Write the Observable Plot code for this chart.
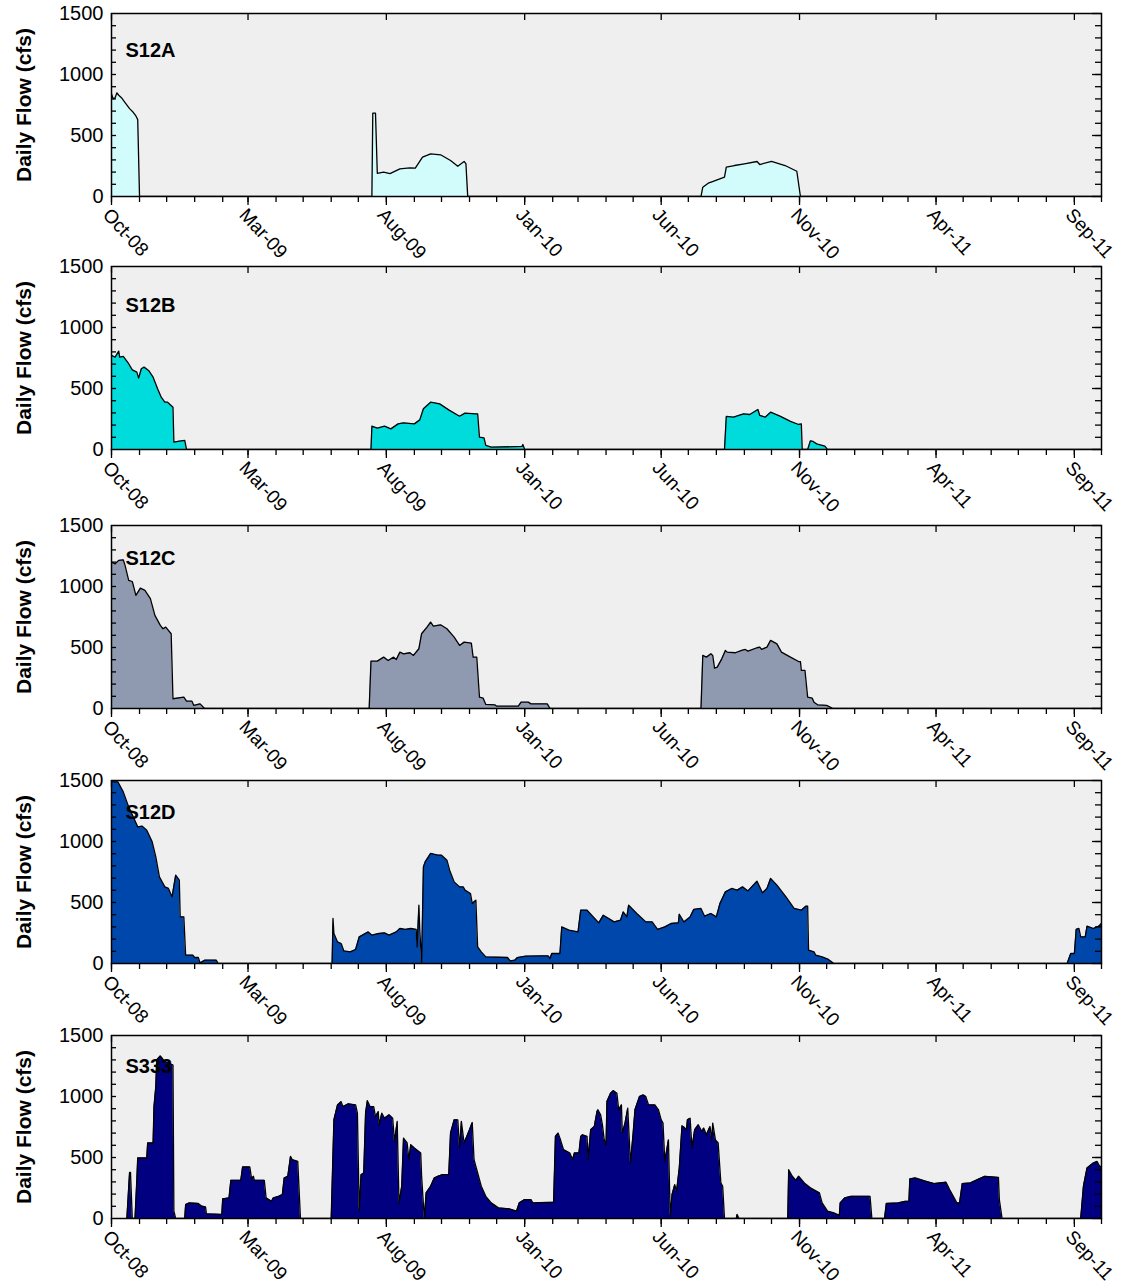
<!DOCTYPE html>
<html><head><meta charset="utf-8">
<script src="https://cdn.jsdelivr.net/npm/d3@7"></script>
<script src="https://cdn.jsdelivr.net/npm/@observablehq/plot@0.6"></script>
<style>
body{margin:0;background:#fff;}
#chart svg{display:block;}
</style>
</head><body><div id="chart"></div>
<script>
// ---------- DATA ----------
const stations = ["S12A", "S12B", "S12C", "S12D", "S333"];
const yTickValues = [0, 500, 1000, 1500];
const majorTickDates = ["2008-10-01","2009-03-01","2009-08-01","2010-01-01","2010-06-01","2010-11-01","2011-04-01","2011-09-01"];
const yTitle = "Daily Flow (cfs)";

const s12a = [["2008-10-01",840],["2008-10-03",800],["2008-10-05",810],["2008-10-07",850],["2008-10-09",830],["2008-10-12",810],["2008-10-16",770],["2008-10-21",720],["2008-10-25",690],["2008-10-28",660],["2008-10-30",630],["2008-11-01",0],
["2009-07-16",0],["2009-07-17",683],["2009-07-20",683],["2009-07-22",190],["2009-07-29",200],["2009-08-05",188],["2009-08-16",227],["2009-08-27",235],["2009-09-02",233],["2009-09-10",322],["2009-09-19",350],["2009-09-30",342],["2009-10-11",295],["2009-10-19",248],["2009-10-26",287],["2009-10-28",270],["2009-10-30",0],
["2010-07-15",0],["2010-07-17",76],["2010-07-23",109],["2010-07-27",120],["2010-08-10",158],["2010-08-12",240],["2010-08-21",254],["2010-09-01",268],["2010-09-15",287],["2010-09-18",262],["2010-10-01",287],["2010-10-16",254],["2010-10-29",207],["2010-11-02",0],["2011-09-30",0]];

const s12b = [["2008-10-01",771],["2008-10-05",757],["2008-10-09",806],["2008-10-10",757],["2008-10-14",763],["2008-10-20",703],["2008-10-24",653],["2008-10-29",634],["2008-10-31",585],["2008-11-03",662],["2008-11-06",675],["2008-11-11",648],["2008-11-16",593],["2008-11-21",498],["2008-11-25",429],["2008-11-29",388],["2008-12-02",388],["2008-12-08",347],["2008-12-09",60],["2008-12-15",68],["2008-12-21",74],["2008-12-23",0],
["2009-07-15",0],["2009-07-16",191],["2009-07-22",175],["2009-07-30",191],["2009-08-06",169],["2009-08-14",210],["2009-08-20",219],["2009-09-01",210],["2009-09-07",243],["2009-09-11",334],["2009-09-19",388],["2009-09-29",374],["2009-10-09",325],["2009-10-21",273],["2009-10-27",298],["2009-11-08",292],["2009-11-10",292],["2009-11-12",101],["2009-11-17",96],["2009-11-19",33],["2009-11-25",19],["2009-12-29",25],["2009-12-30",41],["2010-01-01",0],
["2010-08-10",0],["2010-08-12",271],["2010-08-20",265],["2010-08-31",292],["2010-09-07",287],["2010-09-16",328],["2010-09-18",279],["2010-09-24",265],["2010-09-30",306],["2010-10-11",271],["2010-10-22",230],["2010-10-31",205],["2010-11-03",210],["2010-11-04",0],["2010-11-10",0],["2010-11-13",71],["2010-11-16",66],["2010-11-20",46],["2010-11-29",27],["2010-12-02",0],["2011-09-30",0]];

const s12c = [["2008-10-01",1200],["2008-10-05",1186],["2008-10-09",1214],["2008-10-14",1219],["2008-10-16",1173],["2008-10-20",1050],["2008-10-24",1041],["2008-10-28",927],["2008-11-02",987],["2008-11-07",968],["2008-11-13",900],["2008-11-18",763],["2008-11-24",681],["2008-11-27",654],["2008-11-30",667],["2008-12-06",613],["2008-12-08",80],["2008-12-20",93],["2008-12-23",60],["2008-12-29",60],["2008-12-31",25],["2009-01-07",38],["2009-01-12",0],
["2009-07-13",0],["2009-07-15",388],["2009-07-22",388],["2009-07-29",421],["2009-08-03",394],["2009-08-09",421],["2009-08-12",402],["2009-08-16",462],["2009-08-20",448],["2009-08-27",457],["2009-08-31",435],["2009-09-06",490],["2009-09-09",613],["2009-09-15",667],["2009-09-19",708],["2009-09-22",675],["2009-09-30",686],["2009-10-07",654],["2009-10-15",585],["2009-10-21",517],["2009-10-26",544],["2009-11-03",536],["2009-11-05",421],["2009-11-09",421],["2009-11-12",93],["2009-11-16",85],["2009-11-19",33],["2009-11-29",30],["2009-12-01",19],["2009-12-25",19],["2009-12-28",52],["2010-01-05",52],["2010-01-08",38],["2010-01-26",38],["2010-01-29",0],
["2010-07-15",0],["2010-07-17",435],["2010-07-21",421],["2010-07-26",448],["2010-07-28",435],["2010-07-30",331],["2010-08-02",339],["2010-08-07",407],["2010-08-11",476],["2010-08-13",462],["2010-08-22",457],["2010-08-29",476],["2010-09-02",484],["2010-09-05",470],["2010-09-15",498],["2010-09-18",503],["2010-09-20",484],["2010-09-26",503],["2010-09-30",558],["2010-10-07",530],["2010-10-12",462],["2010-10-22",421],["2010-10-31",385],["2010-11-02",385],["2010-11-03",312],["2010-11-07",312],["2010-11-10",93],["2010-11-15",85],["2010-11-17",52],["2010-11-21",30],["2010-12-01",25],["2010-12-08",0],["2011-09-30",0]];

const s12d = [["2008-10-01",1489],["2008-10-08",1489],["2008-10-10",1462],["2008-10-14",1407],["2008-10-20",1284],["2008-10-30",1120],["2008-11-04",1126],["2008-11-09",1093],["2008-11-15",997],["2008-11-19",874],["2008-11-23",710],["2008-11-29",628],["2008-12-03",615],["2008-12-07",546],["2008-12-11",724],["2008-12-15",683],["2008-12-16",382],["2008-12-20",382],["2008-12-22",68],["2008-12-30",68],["2009-01-01",49],["2009-01-05",49],["2009-01-07",5],["2009-01-12",27],["2009-01-25",27],["2009-01-27",0],
["2009-06-02",0],["2009-06-03",369],["2009-06-04",246],["2009-06-08",177],["2009-06-12",164],["2009-06-15",103],["2009-06-22",95],["2009-06-28",115],["2009-07-02",218],["2009-07-12",259],["2009-07-16",232],["2009-07-24",246],["2009-07-30",251],["2009-08-04",232],["2009-08-12",259],["2009-08-16",287],["2009-08-22",279],["2009-08-28",287],["2009-09-03",279],["2009-09-04",136],["2009-09-06",478],["2009-09-07",273],["2009-09-09",5],["2009-09-11",792],["2009-09-13",833],["2009-09-19",902],["2009-09-27",888],["2009-10-01",888],["2009-10-07",847],["2009-10-10",765],["2009-10-15",669],["2009-10-21",628],["2009-10-25",628],["2009-10-27",601],["2009-11-02",574],["2009-11-04",492],["2009-11-08",519],["2009-11-10",136],["2009-11-14",95],["2009-11-19",54],["2009-12-13",49],["2009-12-16",21],["2009-12-21",27],["2009-12-24",49],["2010-01-02",60],["2010-01-18",62],["2010-01-27",62],["2010-01-29",41],["2010-01-31",82],["2010-02-09",82],["2010-02-11",300],["2010-02-19",273],["2010-03-01",259],["2010-03-04",437],["2010-03-11",437],["2010-03-24",333],["2010-03-29",396],["2010-04-10",341],["2010-04-17",355],["2010-04-20",423],["2010-04-24",382],["2010-04-26",478],["2010-05-05",410],["2010-05-15",341],["2010-05-22",341],["2010-05-28",279],["2010-06-05",300],["2010-06-12",328],["2010-06-20",333],["2010-06-21",404],["2010-06-26",341],["2010-07-03",382],["2010-07-07",443],["2010-07-15",451],["2010-07-19",388],["2010-07-26",410],["2010-08-01",382],["2010-08-05",492],["2010-08-11",587],["2010-08-18",615],["2010-08-24",601],["2010-08-30",628],["2010-09-05",595],["2010-09-15",675],["2010-09-21",579],["2010-09-26",615],["2010-09-30",697],["2010-10-07",642],["2010-10-17",546],["2010-10-26",451],["2010-11-03",437],["2010-11-08",470],["2010-11-10",470],["2010-11-11",109],["2010-11-17",95],["2010-11-19",68],["2010-11-26",54],["2010-12-03",33],["2010-12-09",0],
["2011-08-24",0],["2011-08-28",82],["2011-09-01",82],["2011-09-03",279],["2011-09-06",287],["2011-09-08",218],["2011-09-13",218],["2011-09-15",306],["2011-09-22",287],["2011-09-28",306],["2011-10-01",328]];

const s333 = [["2008-10-18",0],["2008-10-21",378],["2008-10-22",378],["2008-10-24",0],["2008-10-27",0],["2008-10-29",313],["2008-10-30",496],["2008-11-09",496],["2008-11-10",619],["2008-11-16",619],["2008-11-17",917],["2008-11-19",1081],["2008-11-20",1299],["2008-11-24",1332],["2008-11-29",1285],["2008-12-04",1272],["2008-12-08",1258],["2008-12-09",60],["2008-12-11",0],["2008-12-21",0],["2008-12-22",114],["2008-12-26",128],["2009-01-05",123],["2009-01-09",101],["2009-01-13",95],["2009-01-14",38],["2009-01-31",33],["2009-02-01",161],["2009-02-08",169],["2009-02-10",313],["2009-02-21",313],["2009-02-23",422],["2009-03-03",422],["2009-03-05",324],["2009-03-07",346],["2009-03-08",313],["2009-03-19",313],["2009-03-21",169],["2009-03-27",141],["2009-03-29",169],["2009-04-04",182],["2009-04-08",196],["2009-04-10",332],["2009-04-14",346],["2009-04-17",509],["2009-04-19",482],["2009-04-25",468],["2009-04-28",0],
["2009-06-01",0],["2009-06-04",809],["2009-06-08",931],["2009-06-12",958],["2009-06-14",917],["2009-06-20",940],["2009-06-28",931],["2009-06-30",863],["2009-07-02",60],["2009-07-04",359],["2009-07-07",373],["2009-07-09",863],["2009-07-11",966],["2009-07-14",917],["2009-07-18",917],["2009-07-20",835],["2009-07-23",876],["2009-07-24",768],["2009-07-27",863],["2009-07-30",822],["2009-08-04",850],["2009-08-08",822],["2009-08-10",631],["2009-08-13",795],["2009-08-15",128],["2009-08-18",264],["2009-08-20",659],["2009-08-24",619],["2009-08-26",482],["2009-08-28",605],["2009-09-01",578],["2009-09-08",537],["2009-09-09",346],["2009-09-12",0],["2009-09-14",210],["2009-09-19",264],["2009-09-23",332],["2009-09-27",346],["2009-10-02",359],["2009-10-09",359],["2009-10-11",700],["2009-10-15",809],["2009-10-19",809],["2009-10-21",578],["2009-10-23",795],["2009-10-26",619],["2009-10-29",673],["2009-11-01",727],["2009-11-04",787],["2009-11-06",482],["2009-11-10",373],["2009-11-14",264],["2009-11-19",182],["2009-11-25",128],["2009-12-03",87],["2009-12-15",79],["2009-12-23",60],["2009-12-26",128],["2010-01-01",155],["2010-01-08",155],["2010-01-10",128],["2010-02-02",133],["2010-02-04",673],["2010-02-07",700],["2010-02-09",659],["2010-02-13",564],["2010-02-20",537],["2010-02-23",482],["2010-02-25",537],["2010-03-02",537],["2010-03-04",673],["2010-03-06",686],["2010-03-11",673],["2010-03-12",482],["2010-03-15",727],["2010-03-19",754],["2010-03-22",877],["2010-03-23",891],["2010-03-26",850],["2010-03-28",768],["2010-03-30",645],["2010-04-01",605],["2010-04-02",958],["2010-04-06",1027],["2010-04-09",1048],["2010-04-13",1027],["2010-04-15",891],["2010-04-18",931],["2010-04-19",700],["2010-04-22",782],["2010-04-25",904],["2010-04-28",455],["2010-05-01",700],["2010-05-03",891],["2010-05-08",999],["2010-05-12",1013],["2010-05-15",999],["2010-05-18",931],["2010-05-25",931],["2010-05-29",891],["2010-06-01",809],["2010-06-03",782],["2010-06-05",468],["2010-06-09",645],["2010-06-11",19],["2010-06-13",196],["2010-06-16",278],["2010-06-18",223],["2010-06-21",414],["2010-06-24",760],["2010-06-26",750],["2010-06-29",727],["2010-06-30",809],["2010-07-03",822],["2010-07-05",578],["2010-07-08",727],["2010-07-12",768],["2010-07-16",713],["2010-07-18",741],["2010-07-21",686],["2010-07-25",754],["2010-07-27",645],["2010-07-28",782],["2010-07-31",645],["2010-08-03",619],["2010-08-06",292],["2010-08-08",264],["2010-08-10",0],["2010-08-23",0],["2010-08-24",33],["2010-08-26",0],
["2010-10-19",0],["2010-10-20",400],["2010-10-24",346],["2010-10-28",313],["2010-10-31",346],["2010-11-07",286],["2010-11-13",251],["2010-11-23",210],["2010-11-26",128],["2010-12-02",60],["2010-12-09",46],["2010-12-15",25],["2010-12-16",128],["2010-12-21",169],["2010-12-28",182],["2011-01-18",182],["2011-01-20",0],["2011-02-03",0],["2011-02-05",123],["2011-02-18",128],["2011-02-26",141],["2011-03-02",141],["2011-03-03",324],["2011-03-09",332],["2011-03-21",305],["2011-03-30",286],["2011-04-12",297],["2011-04-16",237],["2011-04-21",169],["2011-04-24",128],["2011-04-27",128],["2011-04-30",286],["2011-05-09",292],["2011-05-17",319],["2011-05-25",346],["2011-06-09",337],["2011-06-10",155],["2011-06-13",0],["2011-09-08",0],["2011-09-11",264],["2011-09-15",414],["2011-09-22",455],["2011-09-26",468],["2011-09-29",427],["2011-10-01",427]];

const seriesByStation = [s12a, s12b, s12c, s12d, s333];
const fills = ["#d2fcfc", "#00dcdc", "#8f9ab0", "#0047ab", "#000080"];

// ---------- LAYOUT ----------
const W = 1134, ML = 111, MR = 33, MT = 13, PH = 183;
const PW = W - ML - MR;
const panelHeights = [253, 259, 255, 255, 263];
const labelDy = [37, 39, 33, 32, 31];
const FONT = "'Liberation Sans', Arial, Helvetica, sans-serif";

const parse = s => new Date(s + "T00:00:00Z");
const xDomain = [parse("2008-10-01"), parse("2011-10-01")];
const majors = majorTickDates.map(parse);
const minors = d3.utcMonth.range(xDomain[0], d3.utcDay.offset(xDomain[1], 1));
const hundreds = d3.range(100, 1500, 100);
const fmt = d3.utcFormat("%b-%y");

function panel(i) {
  const rows = seriesByStation[i].map(([d, v]) => ({date: parse(d), flow: v}));
  const h = panelHeights[i];
  return Plot.plot({
    width: W, height: h,
    marginLeft: ML, marginRight: MR, marginTop: MT, marginBottom: h - MT - PH,
    style: {fontFamily: FONT, color: "black", background: "white", overflow: "visible"},
    x: {type: "utc", domain: xDomain, label: null},
    y: {domain: [0, 1500], label: null},
    marks: [
      Plot.frame({fill: "#efefef", stroke: null}),
      Plot.areaY(rows, {x: "date", y: "flow", fill: fills[i], clip: true}),
      Plot.lineY(rows, {x: "date", y: "flow", stroke: "black", strokeWidth: 1.3, clip: true}),
      Plot.text([stations[i]], {frameAnchor: "top-left", dx: 14, dy: labelDy[i], text: d => d,
        fontSize: 20, fontWeight: "bold", textAnchor: "start", lineAnchor: "middle", fill: "black"}),
      // inward ticks: left (every 100), right (minor 100s + major 500s), top (major months)
      Plot.tickY(hundreds, {y: d => d, insetRight: PW - 5, stroke: "black", strokeWidth: 1.3}),
      Plot.tickY(hundreds, {y: d => d, insetLeft: PW - 6, stroke: "black", strokeWidth: 1.3}),
      Plot.tickY(yTickValues, {y: d => d, insetLeft: PW - 9, stroke: "black", strokeWidth: 1.3}),
      Plot.tickX(majors, {x: d => d, insetBottom: PH - 7, stroke: "black", strokeWidth: 1.3}),
      // bottom outward ticks
      Plot.axisX({ticks: minors, tickSize: 6, tickFormat: () => "", strokeWidth: 1.3}),
      Plot.axisX({ticks: majors, tickSize: 9, tickPadding: 1, tickRotate: 47, tickFormat: fmt,
        fontSize: 19, textAnchor: "start", lineAnchor: "top", strokeWidth: 1.3, fill: "black"}),
      Plot.axisY({ticks: yTickValues, tickSize: 0, tickPadding: 8, tickFormat: d3.format("d"),
        fontSize: 20, fill: "black"}),
      Plot.text([yTitle], {frameAnchor: "left", dx: -87, rotate: -90, text: d => d,
        fontSize: 21, fontWeight: "bold", textAnchor: "middle", lineAnchor: "middle", fill: "black"}),
      Plot.frame({stroke: "black", strokeWidth: 1.5})
    ]
  });
}

const root = document.getElementById("chart");
stations.forEach((s, i) => root.appendChild(panel(i)));
</script>
</body></html>
